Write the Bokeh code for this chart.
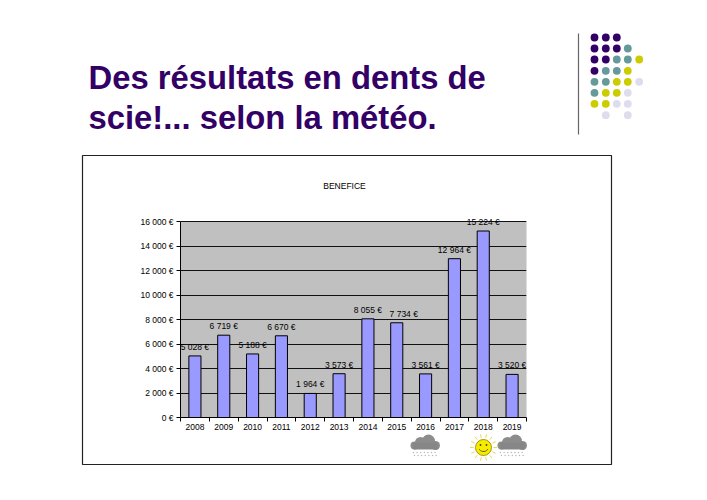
import numpy as np
from bokeh.plotting import figure, ColumnDataSource
from bokeh.layouts import column
from bokeh.models import FixedTicker, LabelSet, Range1d, BoxAnnotation
from bokeh.core.properties import value
from bokeh.embed import file_html
from bokeh.resources import INLINE

years = [2008, 2009, 2010, 2011, 2012, 2013, 2014, 2015, 2016, 2017, 2018, 2019]
benefice = [5028, 6719, 5188, 6670, 1964, 3573, 8055, 7734, 3561, 12964, 15224, 3520]
benefice_labels = ["5 028 €", "6 719 €", "5 188 €", "6 670 €", "1 964 €", "3 573 €",
                   "8 055 €", "7 734 €", "3 561 €", "12 964 €", "15 224 €", "3 520 €"]
y_ticks = [0, 2000, 4000, 6000, 8000, 10000, 12000, 14000, 16000]
y_tick_labels = ["0 €", "2 000 €", "4 000 €", "6 000 €", "8 000 €", "10 000 €",
                 "12 000 €", "14 000 €", "16 000 €"]
slide_title = ["Des résultats en dents de", "scie!... selon la météo."]
chart_title = "BENEFICE"

FONT = "Liberation Sans"
W, H = 700, 496
L, R, T, B = 180, 526, 221, 417        # plot area, page pixels
CX, CY, CW, CH = 130, 205, 410, 235    # chart figure placement, page pixels
TOP = 209                              # frame top leaves room for the top data label

# ---------- slide background, one unit = one page pixel ----------
bg = figure(width=W, height=H, output_backend="svg", toolbar_location=None,
            x_range=Range1d(0, W), y_range=Range1d(H, 0), frame_align=False,
            min_border=0, min_border_left=0, min_border_right=0,
            min_border_top=0, min_border_bottom=0)
bg.axis.visible = False
bg.grid.visible = False
bg.outline_line_color = None
bg.background_fill_color = "white"
bg.border_fill_color = "white"

bg.text([88, 88], [77, 117], text=slide_title, text_font=value(FONT), text_font_size="32.8px",
        text_font_style="bold", text_color="#330066", text_baseline="alphabetic")
bg.text([(L + R) / 2 - 9], [185], text=[chart_title], text_font=value(FONT), text_font_size="8.5px",
        text_color="black", text_align="center", text_baseline="alphabetic")

bg.quad(left=[82], right=[611], top=[155], bottom=[464], fill_color=None,
        line_color="#222222", line_width=1.2)
bg.segment([578], [33], [578], [134], line_color="#666666", line_width=1.2)

P, G, Y, V = "#330066", "#669999", "#CCCC00", "#DDDDEE"
dot_x = [594, 605.3, 616.3, 627.3, 638.7]
dot_y = [37, 48, 59, 70.3, 81.3, 92.3, 103.3, 114.7]
dot_rows = [[P, P, P], [P, P, P, G], [P, P, G, G, Y], [P, G, G, Y], [G, G, Y, Y, V],
            [G, Y, Y, V], [Y, Y, V, V], [None, V, None, V]]
for ry, row in zip(dot_y, dot_rows):
    for rx, c in zip(dot_x, row):
        if c:
            bg.scatter([rx], [ry], size=7.8, fill_color=c, line_color=None)


def cloud(x0):
    bg.scatter([x0 + 4, x0 + 10, x0 + 18, x0 + 25], [445, 442, 440.5, 445], size=[8, 11, 13, 9],
               fill_color="#8C8C8C", line_color=None)
    bg.quad(left=[x0 + 3], right=[x0 + 27], top=[442], bottom=[449], fill_color="#868686", line_color=None)
    rx = [x0 + 3 + 3.6 * i + j for i in range(7) for j in range(2)]
    ry = [452 + 3 * j for i in range(7) for j in range(2)]
    bg.scatter(rx, ry, size=1.4, fill_color="#B5B5B5", line_color=None)


cloud(410)
cloud(497)
a = np.linspace(0, 2 * np.pi, 14, endpoint=False)
bg.segment(483 + 10 * np.cos(a), 447 + 10 * np.sin(a), 483 + 13.5 * np.cos(a), 447 + 13.5 * np.sin(a),
           line_color="#E6D94A", line_width=1)
bg.scatter([483], [447], size=16, fill_color="#F7EC00", line_color="#8A7A00", line_width=0.8)
bg.scatter([480, 486], [444.5, 444.5], size=1.8, fill_color="#444400", line_color=None)
t = np.linspace(0.3, np.pi - 0.3, 10)
bg.line(483 + 4.5 * np.cos(t), 447.5 + 3.5 * np.sin(t), line_color="#444400", line_width=0.8)

# ---------- chart ----------
ymax = 16000 * (B - TOP) / (B - T)
p = figure(width=CW, height=CH, output_backend="svg", toolbar_location=None,
           x_range=Range1d(2007.5, 2019.5), y_range=Range1d(0, ymax), frame_align=False,
           min_border_left=L - CX, min_border_right=CX + CW - R,
           min_border_top=TOP - CY, min_border_bottom=CY + CH - B)
p.border_fill_alpha = 0
p.background_fill_alpha = 0
p.outline_line_color = None
p.xgrid.visible = False
p.ygrid.grid_line_color = "#111111"
p.ygrid.grid_line_width = 1
p.ygrid.ticker = FixedTicker(ticks=y_ticks)
p.add_layout(BoxAnnotation(top=16000, fill_color="#C0C0C0", fill_alpha=1,
                           line_color="#777777", line_width=1, level="image"))

p.yaxis.ticker = FixedTicker(ticks=y_ticks)
p.yaxis.bounds = (0, 16000)
p.yaxis.major_label_overrides = dict(zip(y_ticks, y_tick_labels))
p.yaxis.minor_tick_line_color = None
p.yaxis.major_tick_in = 0
p.yaxis.major_tick_out = 4
p.yaxis.major_label_standoff = 3
p.xaxis.ticker = FixedTicker(ticks=years, minor_ticks=[y - 0.5 for y in years] + [2019.5])
p.xaxis.major_label_overrides = {y: str(y) for y in years}
p.xaxis.major_tick_line_color = None
p.xaxis.major_tick_in = 0
p.xaxis.major_tick_out = 0
p.xaxis.minor_tick_in = 0
p.xaxis.minor_tick_out = 4
p.xaxis.major_label_standoff = 2
for ax in (p.xaxis[0], p.yaxis[0]):
    ax.axis_line_color = "black"
    ax.axis_line_width = 1
    ax.major_label_text_font = FONT
    ax.major_label_text_font_size = "8.5px"
    ax.major_label_text_color = "black"

src = ColumnDataSource(dict(year=years, value=benefice, label=benefice_labels,
                            nudge=[7 if y == 2015 else 0 for y in years]))
p.vbar(x="year", top="value", width=0.42, source=src,
       fill_color="#9999FF", line_color="black", line_width=1)
p.add_layout(LabelSet(x="year", y="value", text="label", source=src, y_offset=4, x_offset="nudge",
                      text_font=value(FONT), text_font_size="8.5px", text_color="black",
                      text_align="center", text_baseline="bottom"))

# chart laid over the slide
p.styles = {"position": "absolute", "left": f"{CX}px", "top": f"{CY}px"}
root = column(bg, p)
open("out.html", "w").write(file_html(root, INLINE))
